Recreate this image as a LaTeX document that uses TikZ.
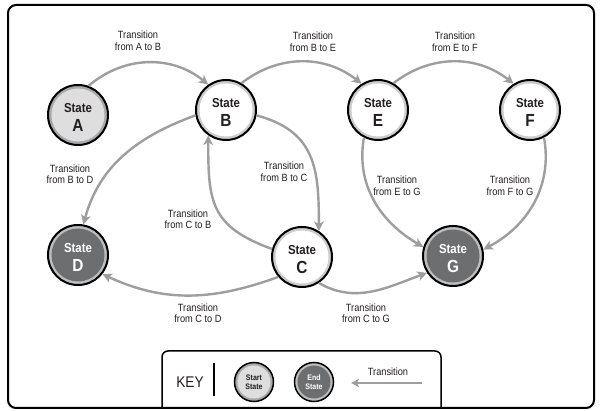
\documentclass[tikz,border=0pt]{standalone}
\usepackage{fontspec}
\setmainfont{Liberation Sans}[FakeStretch=0.88]
\usetikzlibrary{arrows.meta}
\definecolor{edgegray}{HTML}{9E9E9E}
\definecolor{txt}{HTML}{231F20}
\definecolor{startfill}{HTML}{DEDEDF}
\definecolor{startring}{HTML}{A9A9AB}
\definecolor{midring}{HTML}{CDCDCD}
\definecolor{endfill}{HTML}{6D6E70}
\definecolor{endring}{HTML}{BEBEBE}
\begin{document}
\begin{tikzpicture}[x=1pt,y=1pt,
  stbase/.style 2 args={circle, minimum size=60pt, inner sep=0pt, draw=black, line width=2pt,
    align=center, font=\fontsize{13}{19}\selectfont\bfseries, text=txt,
    fill=#1, path picture={\fill[#2] (path picture bounding box.center) circle (26.5pt);}},
  startst/.style={stbase={startring}{startfill}},
  midst/.style={stbase={midring}{white}},
  endst/.style={stbase={endring}{endfill}, text=white},
  keybase/.style 2 args={circle, minimum size=39pt, inner sep=0pt, draw=black, line width=1.5pt,
    align=center, font=\fontsize{8}{9}\selectfont\bfseries, text=txt,
    fill=#1, path picture={\fill[#2] (path picture bounding box.center) circle (16.5pt);}},
  tr/.style={draw=edgegray, line width=2.4pt, -{Stealth[length=9.5pt,width=9.5pt,inset=2.5pt]}},
  lbl/.style={align=center, font=\fontsize{10.5}{11.5}\selectfont, text=txt, inner sep=0pt},
]
\useasboundingbox (0,0) rectangle (600,-411);
\fill[white] (0,0) rectangle (600,-411);
% frame
\draw[line width=2pt, rounded corners=8pt] (8,-5) rectangle (594,-408);

% states
\node[startst] (A) at (78,-115) {\rule{0pt}{14pt}State\\{\fontsize{17.5}{19}\selectfont A}};
\node[midst] (B) at (226,-110) {\rule{0pt}{14pt}State\\{\fontsize{17.5}{19}\selectfont B}};
\node[midst] (E) at (378,-110) {\rule{0pt}{14pt}State\\{\fontsize{17.5}{19}\selectfont E}};
\node[midst] (F) at (530,-110) {\rule{0pt}{14pt}State\\{\fontsize{17.5}{19}\selectfont F}};
\node[endst] (D) at (78,-255) {\rule{0pt}{14pt}State\\{\fontsize{17.5}{19}\selectfont D}};
\node[midst] (C) at (302,-257) {\rule{0pt}{14pt}State\\{\fontsize{17.5}{19}\selectfont C}};
\node[endst] (G) at (453,-256) {\rule{0pt}{14pt}State\\{\fontsize{17.5}{19}\selectfont G}};

% transitions
\draw[tr] (A.70) to[bend left=40] (B.125);
\draw[tr] (B.60) to[bend left=38] (E.122);
\draw[tr] (E.60) to[bend left=38] (F.122);
\draw[tr] (B.190) to[out=200,in=75] (D.80);
\draw[tr] (B.-10) to[out=-15,in=90,looseness=1.2] (C.57);
\draw[tr] (C.165) to[out=160,in=-90,looseness=1.3] (B.235);
\draw[tr] (C.220) to[out=200,in=-25] (D.-38);
\draw[tr] (C.-57) to[out=-30,in=200] (G.213);
\draw[tr] (E.243) to[out=-100,in=150] (G.163);
\draw[tr] (F.-63) to[out=-80,in=28] (G.12);

% labels
\node[lbl] (lAB) at (138,-41) {Transition\\from A to B};
\node[lbl] (lBE) at (313,-42) {Transition\\from B to E};
\node[lbl] (lEF) at (455,-42) {Transition\\from E to F};
\node[lbl] (lBD) at (70,-174) {Transition\\from B to D};
\node[lbl] (lBC) at (284,-172) {Transition\\from B to C};
\node[lbl] (lCB) at (188,-219) {Transition\\from C to B};
\node[lbl] (lEG) at (397,-186) {Transition\\from E to G};
\node[lbl] (lFG) at (510,-186) {Transition\\from F to G};
\node[lbl] (lCD) at (198,-313) {Transition\\from C to D};
\node[lbl] (lCG) at (366,-313) {Transition\\from C to G};

% key
\draw[line width=1.5pt, rounded corners=6pt] (162,-408) -- (162,-351) -- (441,-351) -- (441,-408);
\node[font=\fontsize{15.5}{15}\selectfont, text=txt] (key) at (190,-382) {KEY};
\draw[line width=1.5pt] (214,-363) -- (214,-396);
\node[keybase={startring}{startfill}] (ks) at (254,-382) {Start\\State};
\node[keybase={endring}{endfill}, text=white] (ke) at (314,-382) {End\\State};
\coordinate (k1) at (422,-383);
\coordinate (k2) at (351,-383);
\draw[draw=edgegray, line width=2pt, -{Stealth[length=8pt,width=8pt,inset=2pt]}] (k1) -- (k2);
\node[lbl] (kt) at (388,-372) {Transition};
\end{tikzpicture}
\end{document}
